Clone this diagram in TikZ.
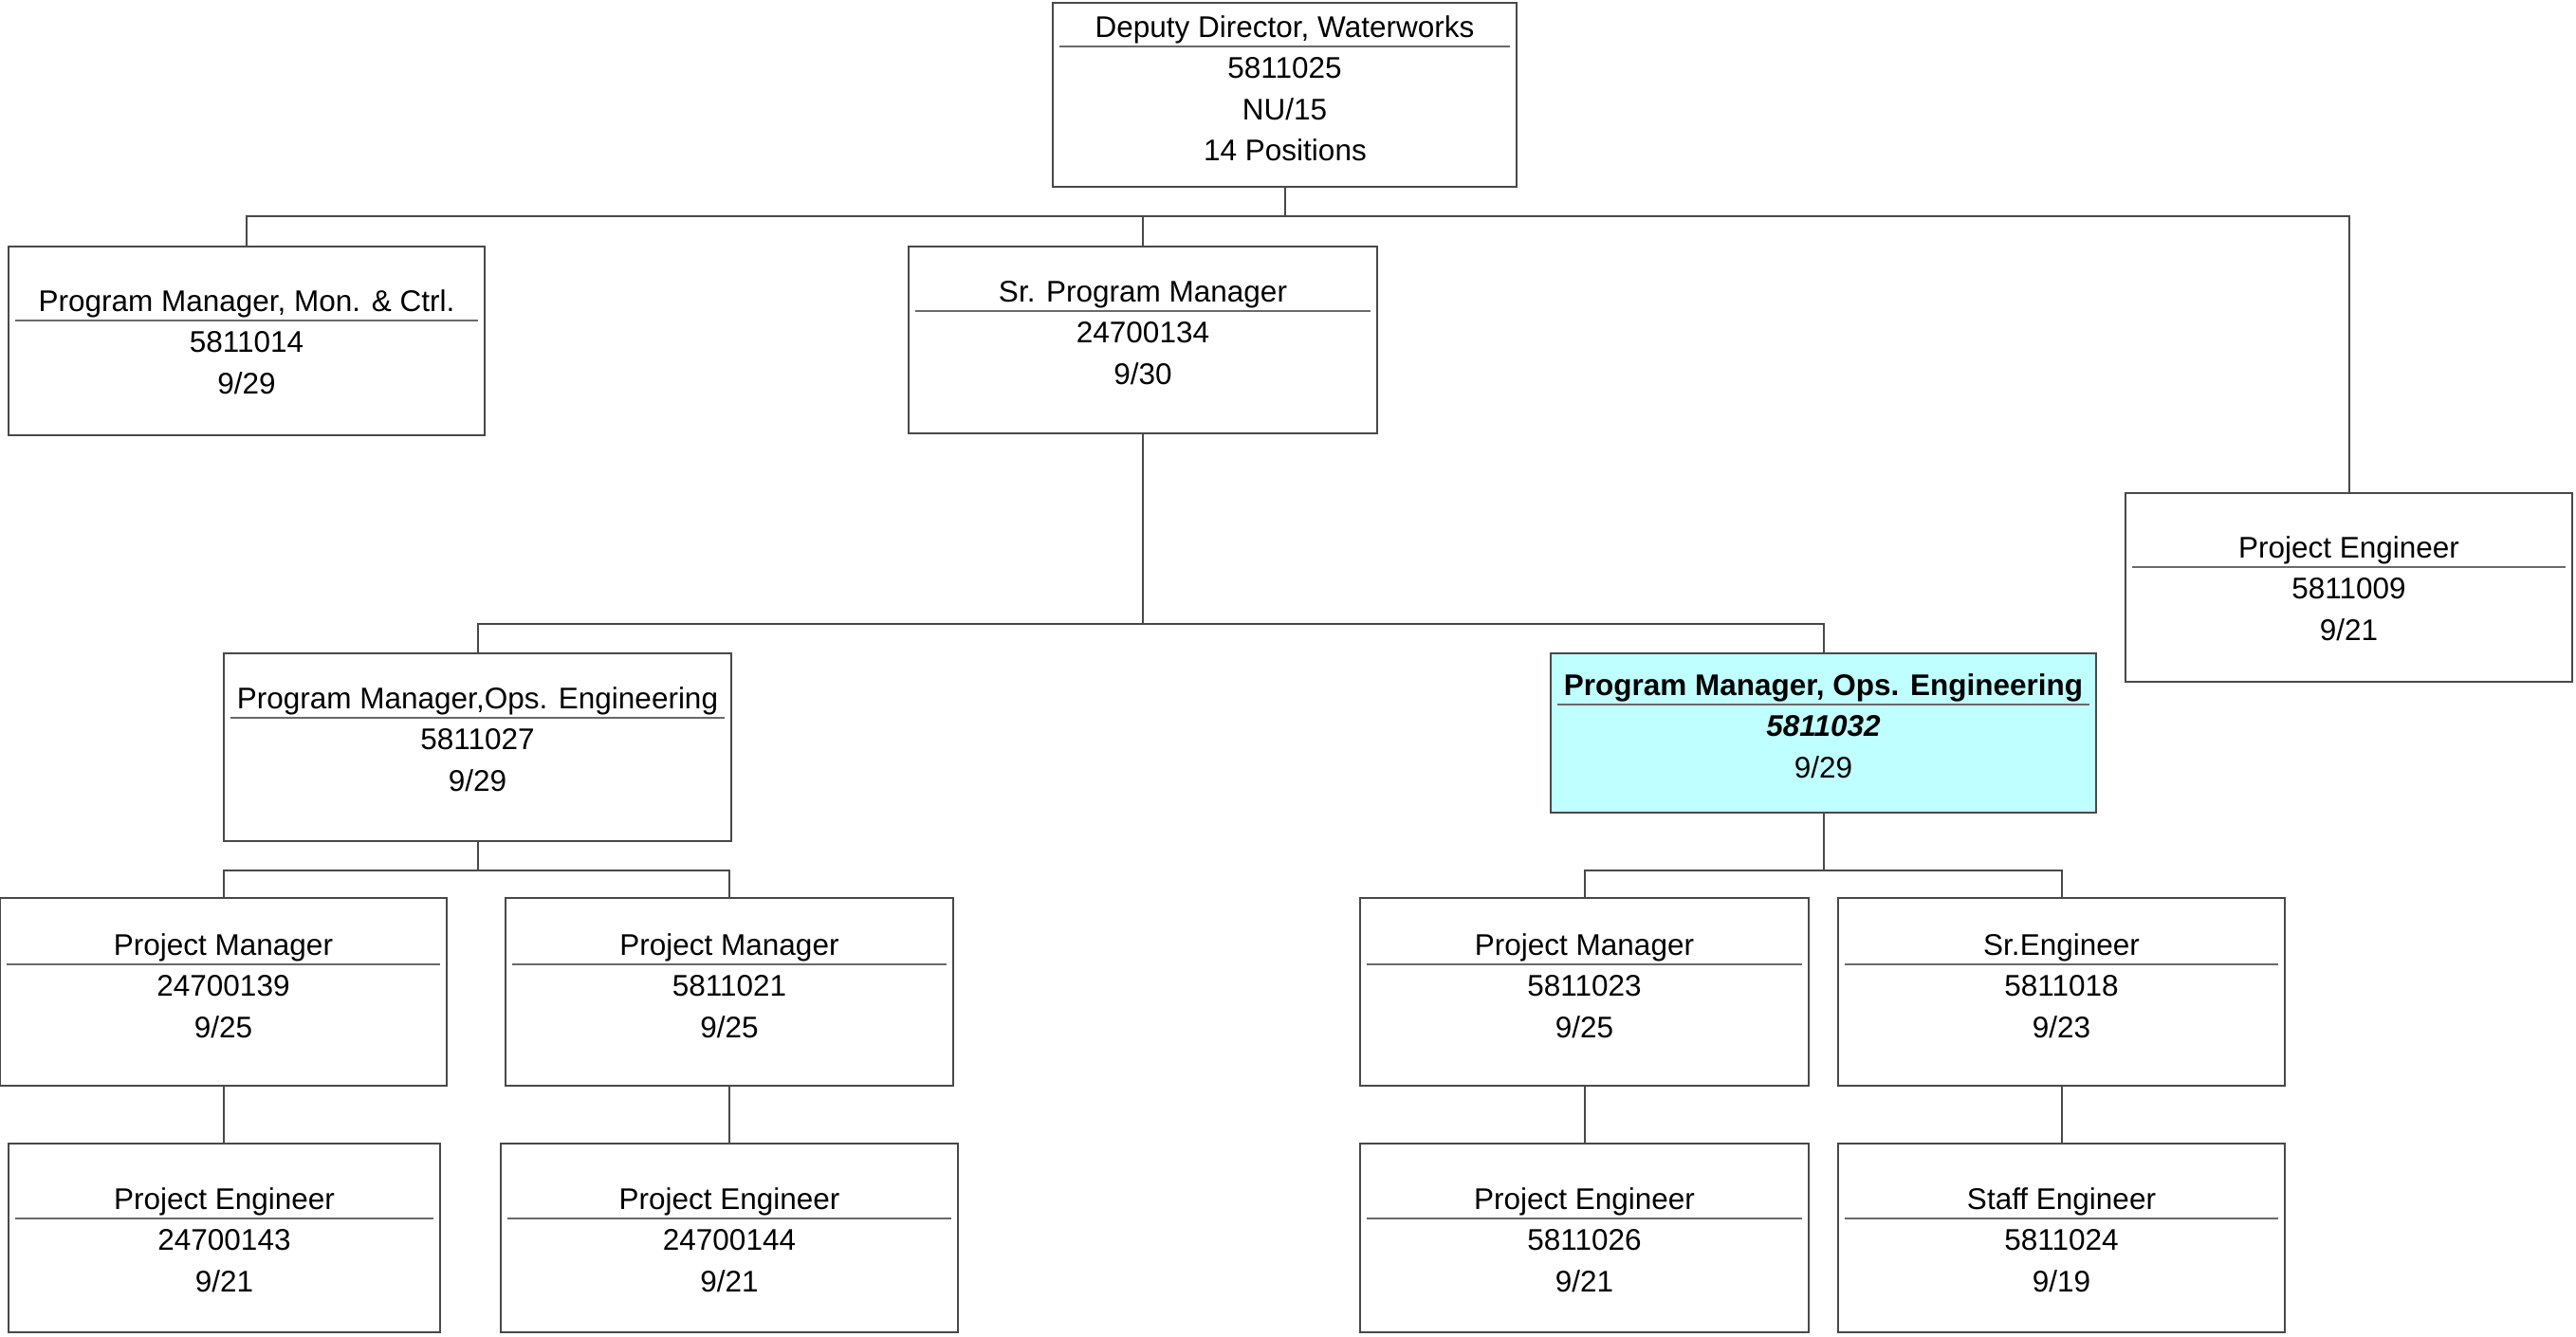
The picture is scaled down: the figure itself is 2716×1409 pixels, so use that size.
\documentclass[tikz,border=0pt]{standalone}
\usepackage{fontspec}
\setmainfont{Liberation Sans}
\definecolor{linegray}{RGB}{72,72,72}
\definecolor{sepgray}{RGB}{105,105,105}
\definecolor{hilite}{RGB}{192,255,255}

% geometry list: left, top, right, bottom, centre line of the title
\def\getgeom#1,#2,#3,#4,#5\relax{\def\gl{#1}\def\gt{#2}\def\gr{#3}\def\gb{#4}\def\gy{#5}}

% one position box: #1 extra style, #2 name, #3 geometry, #4 title, #5 number, #6 grade
\newcommand\orgbox[6][]{%
  \getgeom#3\relax
  \pgfmathsetmacro\cx{(\gl+\gr)/2}%
  \pgfmathsetmacro\cy{(\gt+\gb)/2}%
  \pgfmathsetmacro\bw{\gr-\gl}%
  \pgfmathsetmacro\bh{\gb-\gt}%
  \node[orgframe,#1,minimum width=\bw pt,minimum height=\bh pt] (#2) at (\cx,\cy) {};
  \node[linetext] (#2-t) at (\cx,\gy+11) {#4};
  \draw[sepline] (\gl+7,\gy+21) -- (\gr-7,\gy+21);
  \node[linetext] (#2-n) at (\cx,\gy+54.5) {#5};
  \node[linetext] (#2-g) at (\cx,\gy+98) {#6};
}

\begin{document}
\begin{tikzpicture}[x=1pt,y=-1pt,
  orgframe/.style={draw=linegray,line width=1.8pt,rectangle,inner sep=0pt,fill=white},
  highlighted/.style={fill=hilite},
  linetext/.style={anchor=base,inner sep=0pt,font=\fontsize{31.5}{43.5}\selectfont},
  sepline/.style={draw=sepgray,line width=1.8pt},
  conn/.style={draw=linegray,line width=2pt}]

\useasboundingbox (0,0) rectangle (2716,1409);

% level 0
\orgbox{dd}{1110,3,1599,197,28}{Deputy Director, Waterworks}{5811025}{NU/15}
\node[linetext] (dd-p) at (1355,28+141.5) {14 Positions};

% level 1
\orgbox{mc}{9,260,511,459,317}{Program Manager, Mon. \& Ctrl.}{5811014}{9/29}
\orgbox{srpm}{958,260,1452,457,307}{Sr. Program Manager}{24700134}{9/30}
\orgbox{pe0}{2241,520,2712,719,577}{Project Engineer}{5811009}{9/21}

% level 2
\orgbox{pmoe}{236,689,771,887,736}{Program Manager,Ops. Engineering}{5811027}{9/29}
\orgbox[highlighted]{cy}{1635,689,2210,857,722}{\bfseries Program Manager, Ops. Engineering}{\bfseries\itshape 5811032}{9/29}

% level 3
\orgbox{pm1}{0,947,471,1145,996}{Project Manager}{24700139}{9/25}
\orgbox{pm2}{533,947,1005,1145,996}{Project Manager}{5811021}{9/25}
\orgbox{pm3}{1434,947,1907,1145,996}{Project Manager}{5811023}{9/25}
\orgbox{sre}{1938,947,2409,1145,996}{Sr.Engineer}{5811018}{9/23}

% level 4
\orgbox{pe1}{9,1206,464,1405,1264}{Project Engineer}{24700143}{9/21}
\orgbox{pe2}{528,1206,1010,1405,1264}{Project Engineer}{24700144}{9/21}
\orgbox{pe3}{1434,1206,1907,1405,1264}{Project Engineer}{5811026}{9/21}
\orgbox{se}{1938,1206,2409,1405,1264}{Staff Engineer}{5811024}{9/19}

% bus rows of the connectors
\coordinate (bus1) at (0,228);
\coordinate (bus2) at (0,658);
\coordinate (bus3) at (0,918);

\draw[conn] (dd.south) -- (dd.south |- bus1);
\draw[conn] (mc.north) -- (mc.north |- bus1) -- (pe0.north |- bus1) -- (pe0.north);
\draw[conn] (srpm.north) -- (srpm.north |- bus1);

\draw[conn] (srpm.south) -- (srpm.south |- bus2);
\draw[conn] (pmoe.north) -- (pmoe.north |- bus2) -- (cy.north |- bus2) -- (cy.north);

\draw[conn] (pmoe.south) -- (pmoe.south |- bus3);
\draw[conn] (pm1.north) -- (pm1.north |- bus3) -- (pm2.north |- bus3) -- (pm2.north);
\draw[conn] (cy.south) -- (cy.south |- bus3);
\draw[conn] (pm3.north) -- (pm3.north |- bus3) -- (sre.north |- bus3) -- (sre.north);

\draw[conn] (pm1.south) -- (pm1.south |- pe1.north);
\draw[conn] (pm2.south) -- (pm2.south |- pe2.north);
\draw[conn] (pm3.south) -- (pm3.south |- pe3.north);
\draw[conn] (sre.south) -- (sre.south |- se.north);
\end{tikzpicture}
\end{document}
